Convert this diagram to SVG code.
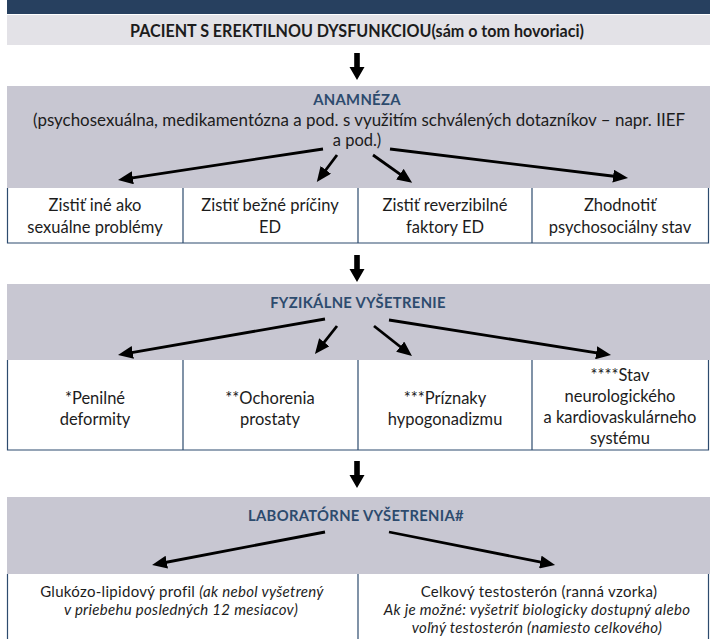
<svg xmlns="http://www.w3.org/2000/svg" width="710" height="639" viewBox="0 0 710 639">
<defs>
<style>
.t{font-family:Lato,'Noto Sans','Liberation Sans',sans-serif;font-size:16.5px;fill:#1c1c1c;text-anchor:middle}
.s{font-size:15px;letter-spacing:0.3px}
.i{font-style:italic}
.h{font-family:Lato,'Noto Sans','Liberation Sans',sans-serif;font-size:14.8px;font-weight:bold;fill:#2d4b6e;text-anchor:middle;letter-spacing:0.3px}
.gray{fill:#c8c7d2}
.cell{fill:#ffffff}
.bd{stroke:#2d4b6e;stroke-width:1.2;fill:none}
.ar{stroke:#000;stroke-width:2.8;fill:none;marker-end:url(#ah)}
</style>
<marker id="ah" markerUnits="userSpaceOnUse" markerWidth="16" markerHeight="13" refX="7" refY="6.5" orient="auto">
<path d="M0,0 L15,6.5 L0,13 Z" fill="#000"/>
</marker>
<path id="down" d="M-2.8,0 H2.8 V14 H7.5 L0,27 L-7.5,14 H-2.8 Z" fill="#000"/>
</defs>

<g id="header">
<rect x="7" y="0" width="703" height="14" fill="#27405f"/>
</g>

<g id="patient">
<rect x="7" y="15" width="703" height="30" fill="#e3e2e7"/>
<text class="t" x="357" y="37" font-weight="bold" font-size="14.5" textLength="454" lengthAdjust="spacingAndGlyphs">PACIENT S EREKTILNOU DYSFUNKCIOU(sám o tom hovoriaci)</text>
</g>

<g id="anamneza">
<rect class="gray" x="7" y="86" width="703" height="102"/>
<text class="h" x="357" y="105">ANAMNÉZA</text>
<text class="t" x="359" y="126" textLength="652" lengthAdjust="spacingAndGlyphs">(psychosexuálna, medikamentózna a pod. s využitím schválených dotazníkov – napr. IIEF</text>
<text class="t" x="357" y="146">a pod.)</text>
</g>

<g id="row1">
<rect class="cell" x="7" y="188" width="702" height="55"/>
<path class="bd" d="M7.5,188 V243 H708.5 V188 M183,188 V243 M358,188 V243 M532,188 V243"/>
<g id="r1c1"><text class="t" x="95" y="211">Zistiť iné ako</text><text class="t" x="95" y="233">sexuálne problémy</text></g>
<g id="r1c2"><text class="t" x="270" y="211">Zistiť bežné príčiny</text><text class="t" x="270" y="233">ED</text></g>
<g id="r1c3"><text class="t" x="445" y="211">Zistiť reverzibilné</text><text class="t" x="445" y="233">faktory ED</text></g>
<g id="r1c4"><text class="t" x="620" y="211">Zhodnotiť</text><text class="t" x="620" y="233">psychosociálny stav</text></g>
</g>

<g id="fyzikalne">
<rect class="gray" x="7" y="284" width="703" height="76"/>
<text class="h" x="358" y="308">FYZIKÁLNE VYŠETRENIE</text>
</g>

<g id="row2">
<rect class="cell" x="7" y="360" width="702" height="90"/>
<path class="bd" d="M7.5,360 V450 H708.5 V360 M183,360 V450 M358,360 V450 M532,360 V450"/>
<g id="r2c1"><text class="t" x="95" y="404">*Penilné</text><text class="t" x="95" y="425">deformity</text></g>
<g id="r2c2"><text class="t" x="270" y="404">**Ochorenia</text><text class="t" x="270" y="425">prostaty</text></g>
<g id="r2c3"><text class="t" x="445" y="404">***Príznaky</text><text class="t" x="445" y="425">hypogonadizmu</text></g>
<g id="r2c4"><text class="t" x="620" y="381">****Stav</text><text class="t" x="620" y="402">neurologického</text><text class="t" x="620" y="423">a kardiovaskulárneho</text><text class="t" x="620" y="444">systému</text></g>
</g>

<g id="laboratorne">
<rect class="gray" x="7" y="497" width="703" height="77"/>
<text class="h" x="356" y="521">LABORATÓRNE VYŠETRENIA#</text>
</g>

<g id="row3">
<rect class="cell" x="7" y="574" width="702" height="66"/>
<path class="bd" d="M7.5,574 V640 M708.5,574 V640 M358,574 V640"/>
<g id="r3c1"><text class="t s" x="182" y="597">Glukózo-lipidový profil <tspan class="i">(ak nebol vyšetrený</tspan></text><text class="t s i" x="181" y="615">v priebehu posledných 12 mesiacov)</text></g>
<g id="r3c2"><text class="t s" x="539" y="597">Celkový testosterón (ranná vzorka)</text><text class="t s i" x="537" y="615">Ak je možné: vyšetriť biologicky dostupný alebo</text><text class="t s i" x="537" y="633">voľný testosterón (namiesto celkového)</text></g>
</g>

<g id="connectors">
<use href="#down" x="357" y="53"/>
<use href="#down" x="357" y="255"/>
<use href="#down" x="357" y="461"/>
<line class="ar" x1="323" y1="149" x2="125.9" y2="178.8"/>
<line class="ar" x1="337" y1="155" x2="321.6" y2="175.5"/>
<line class="ar" x1="373" y1="155" x2="405.6" y2="178.2"/>
<line class="ar" x1="390" y1="149" x2="620.1" y2="177"/>
<line class="ar" x1="325" y1="319" x2="125.9" y2="353.6"/>
<line class="ar" x1="337" y1="326" x2="319.9" y2="347.7"/>
<line class="ar" x1="374" y1="326" x2="405.7" y2="351"/>
<line class="ar" x1="389" y1="320" x2="603.1" y2="353.8"/>
<line class="ar" x1="325" y1="532" x2="159.9" y2="563.5"/>
<line class="ar" x1="389" y1="532" x2="547.2" y2="563.4"/>
</g>
</svg>
